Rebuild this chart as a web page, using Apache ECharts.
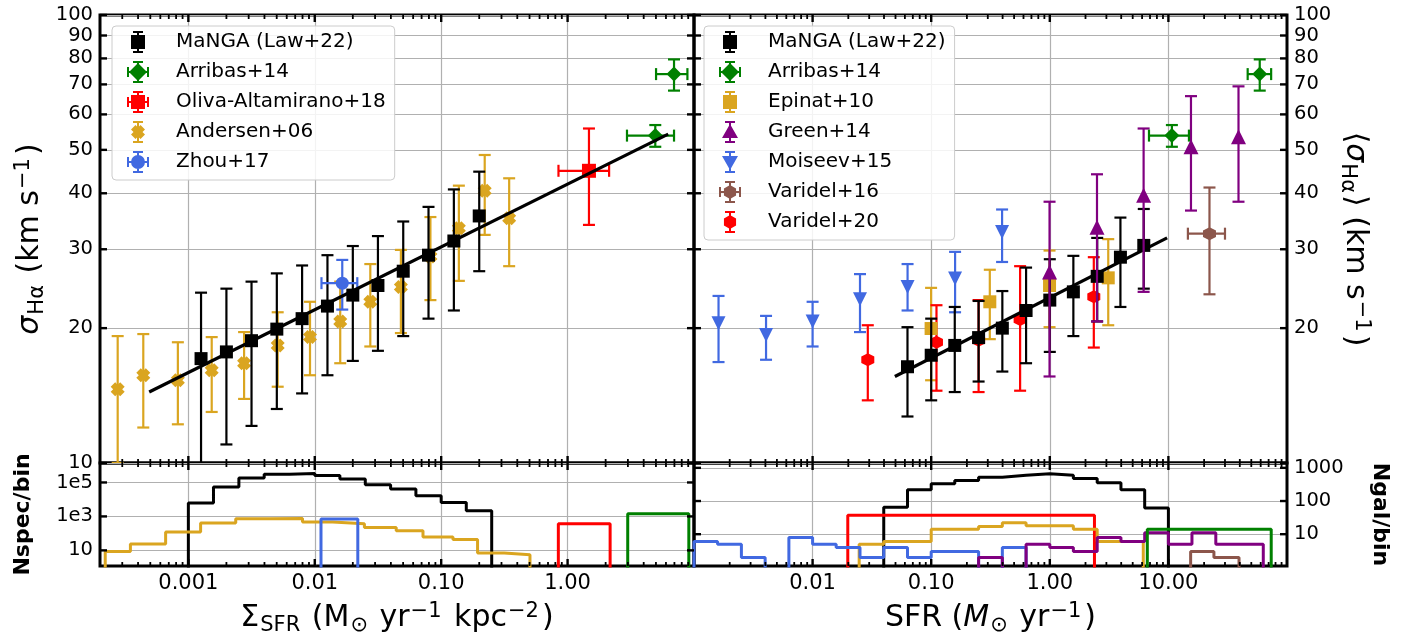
<!DOCTYPE html>
<html><head><meta charset="utf-8">
<script src="https://cdn.jsdelivr.net/npm/echarts@6/dist/echarts.min.js"></script>
<style>html,body{margin:0;padding:0;background:#fff}#c{width:1401px;height:642px}</style>
</head><body><div id="c"></div>
<script>
// ================= DATA =================
// tick values / labels
const xTicksLeft = [0.001, 0.01, 0.1, 1];
const xTickLabelsLeft = ['0.001', '0.01', '0.10', '1.00'];
const xTicksRight = [0.01, 0.1, 1, 10];
const xTickLabelsRight = ['0.01', '0.10', '1.00', '10.00'];
const sigmaTicks = [10, 20, 30, 40, 50, 60, 70, 80, 90, 100];
const sigmaTickLabels = ['10', '20', '30', '40', '50', '60', '70', '80', '90', '100'];
const sigmaTicksRightLabelled = [20, 30, 40, 50, 60, 70, 80, 90, 100];
const sigmaTickLabelsRight = ['20', '30', '40', '50', '60', '70', '80', '90', '100'];
const nspecTicks = [10, 1000, 100000];
const nspecTickLabels = ['10', '1e3', '1e5'];
const ngalTicks = [10, 100, 1000];
const ngalTickLabels = ['10', '100', '1000'];

// ---- left panel: sigma vs Sigma_SFR ----
const mangaL_x = [0.00126, 0.002, 0.00316, 0.00501, 0.00794, 0.0126, 0.02, 0.0316, 0.0501, 0.0794, 0.126, 0.2];
const mangaL_y = [17.1, 17.7, 18.75, 19.9, 21.0, 22.4, 23.7, 24.9, 26.8, 29.1, 31.3, 35.6];
const mangaL_lo = [9.5, 11.0, 12.1, 13.2, 14.3, 15.7, 16.9, 17.8, 19.2, 21.0, 21.9, 26.8];
const mangaL_hi = [24.0, 24.5, 25.4, 26.5, 27.6, 29.1, 30.5, 32.1, 34.6, 37.3, 40.8, 44.7];
const fitL_x = [0.00049, 6.25];
const fitL_y = [14.4, 54.2];

const arribasL_x = [4.94, 6.95];
const arribasL_y = [53.8, 73.8];
const arribasL_xlo = [2.95, 5.01];
const arribasL_xhi = [6.95, 8.87];
const arribasL_lo = [50.8, 67.8];
const arribasL_hi = [56.8, 79.6];

const oliva_x = [1.476];
const oliva_y = [44.9];
const oliva_xlo = [0.847];
const oliva_xhi = [2.13];
const oliva_lo = [34.0];
const oliva_hi = [55.8];

const andersen_x = [0.000276, 0.00044, 0.000826, 0.00153, 0.00276, 0.00509, 0.00917, 0.0159, 0.0275, 0.048, 0.0822, 0.138, 0.221, 0.345];
const andersen_y = [14.6, 15.7, 15.3, 16.1, 16.7, 18.3, 19.1, 20.7, 22.9, 24.7, 28.9, 33.4, 40.5, 35.2];
const andersen_lo = [10.0, 12.0, 12.2, 13.0, 13.9, 14.8, 15.7, 16.7, 18.2, 19.5, 23.1, 25.5, 32.3, 27.5];
const andersen_hi = [19.2, 19.4, 18.6, 19.1, 19.6, 21.7, 22.9, 25.4, 27.8, 29.9, 35.4, 41.6, 48.7, 43.2];

const zhou_x = [0.0165];
const zhou_y = [25.2];
const zhou_xlo = [0.0113];
const zhou_xhi = [0.0217];
const zhou_lo = [22.0];
const zhou_hi = [28.4];

// ---- right panel: sigma vs SFR ----
const mangaR_x = [0.0631, 0.1, 0.158, 0.251, 0.398, 0.631, 1.0, 1.58, 2.51, 3.94, 6.2];
const mangaR_y = [16.4, 17.4, 18.3, 19.05, 20.0, 21.9, 23.1, 24.1, 26.1, 28.8, 30.6];
const mangaR_lo = [12.7, 13.8, 14.4, 15.2, 16.0, 16.7, 17.7, 19.2, 20.7, 22.3, 24.5];
const mangaR_hi = [20.1, 21.0, 22.3, 23.0, 24.2, 27.3, 28.5, 29.0, 31.8, 35.3, 36.9];
const fitR_x = [0.0494, 9.75];
const fitR_y = [15.6, 31.8];

const arribasR_x = [10.7, 58.9];
const arribasR_y = [53.8, 73.8];
const arribasR_xlo = [6.86, 46.6];
const arribasR_xhi = [14.9, 73.5];
const arribasR_lo = [50.8, 67.8];
const arribasR_hi = [56.8, 79.6];

const epinat_x = [0.0998, 0.312, 0.995, 3.11];
const epinat_y = [19.96, 22.9, 24.9, 25.9];
const epinat_lo = [15.3, 18.9, 20.1, 20.3];
const epinat_hi = [24.6, 27.0, 29.8, 31.6];

const green_x = [0.995, 2.50, 6.18, 15.5, 39.0];
const green_y = [26.7, 33.6, 39.6, 50.8, 53.5];
const green_lo = [15.6, 20.7, 24.1, 36.6, 38.3];
const green_hi = [38.3, 44.1, 55.8, 65.9, 69.3];

const moiseev_x = [0.00161, 0.00405, 0.01, 0.0251, 0.0632, 0.159, 0.396];
const moiseev_y = [20.5, 19.3, 20.7, 23.2, 24.7, 25.8, 32.8];
const moiseev_lo = [16.8, 17.0, 18.2, 19.6, 21.9, 21.7, 28.1];
const moiseev_hi = [23.6, 21.3, 22.9, 26.4, 27.8, 29.6, 36.8];

const varidel16_x = [22.2];
const varidel16_y = [32.5];
const varidel16_xlo = [14.6];
const varidel16_xhi = [30.0];
const varidel16_lo = [23.8];
const varidel16_hi = [41.2];

const varidel20_x = [0.0292, 0.1108, 0.251, 0.562, 2.35];
const varidel20_y = [17.0, 18.6, 18.8, 20.9, 23.5];
const varidel20_lo = [13.8, 14.5, 14.4, 14.5, 18.1];
const varidel20_hi = [20.3, 22.5, 23.1, 27.5, 28.8];

// ---- histograms (bin edges, counts per bin) ----
const hL_manga_edges = [0.001, 0.00158, 0.00251, 0.00398, 0.00631, 0.01, 0.0158, 0.0251, 0.0398, 0.0631, 0.1, 0.158, 0.251];
const hL_manga_counts = [6170, 53700, 182000, 309000, 339000, 257000, 158000, 72400, 40700, 16600, 6610, 2190];
const hL_andersen_edges = [0.00022, 0.000348, 0.000661, 0.00125, 0.00237, 0.00437, 0.008, 0.01384, 0.0247, 0.0441, 0.0718, 0.124, 0.194, 0.315, 0.504];
const hL_andersen_counts = [8.7, 24, 120, 407, 724, 759, 468, 372, 224, 145, 62, 43, 7.1, 5.6];
const hL_zhou_edges = [0.0112, 0.0219];
const hL_zhou_counts = [708];
const hL_oliva_edges = [0.845, 2.17];
const hL_oliva_counts = [372];
const hL_arribas_edges = [2.99, 9.1];
const hL_arribas_counts = [1445];

const hR_manga_edges = [0.0398, 0.0631, 0.1, 0.158, 0.251, 0.398, 0.631, 1.0, 1.58, 2.51, 3.98, 6.31, 10.0];
const hR_manga_counts = [65, 219, 331, 417, 525, 603, 661, 603, 479, 355, 219, 62];
const hR_varidel20_edges = [0.0198, 2.38];
const hR_varidel20_counts = [37];
const hR_epinat_edges = [0.0247, 0.0398, 0.0631, 0.1, 0.158, 0.251, 0.398, 0.631, 1.0, 1.58, 2.51, 3.98, 6.14];
const hR_epinat_counts = [5, 6, 6, 14, 14, 17, 22, 18, 18, 14, 6, 6];
const hR_moiseev_edges = [0.001, 0.00158, 0.00251, 0.00398, 0.00631, 0.01, 0.0158, 0.0251, 0.0398, 0.0631, 0.1, 0.158, 0.251, 0.398, 0.631];
const hR_moiseev_counts = [6, 5, 2, 0, 8, 5, 4, 2, 4, 2, 3, 3, 0, 4];
const hR_green_edges = [0.251, 0.398, 0.631, 1.0, 1.58, 2.51, 3.98, 6.31, 10, 15.8, 25.1, 39.8, 63.1];
const hR_green_counts = [2, 0, 5, 4, 3, 8, 6, 11, 5, 11, 5, 5];
const hR_arribas_edges = [6.64, 73.6];
const hR_arribas_counts = [14];
const hR_varidel16_edges = [15.4, 24.2, 39.4];
const hR_varidel16_counts = [3, 2];

// legends
const legendLeftNames = ['MaNGA (Law+22)', 'Arribas+14', 'Oliva-Altamirano+18', 'Andersen+06', 'Zhou+17'];
const legendRightNames = ['MaNGA (Law+22)', 'Arribas+14', 'Epinat+10', 'Green+14', 'Moiseev+15', 'Varidel+16', 'Varidel+20'];

// ================= STYLE =================
const FONT = 'DejaVu Sans';
const BLACK = '#000000', GREEN = '#008000', RED = '#ff0000', GOLD = '#daa520', BLUE = '#4169e1', PURPLE = '#800080', BROWN = '#8c564b';
const GRIDC = '#b0b0b0';

const VBAR = 'M11 1H13V23H11Z M7 1H17V3H7Z M7 21H17V23H7Z';
const HBAR = 'M1 11H23V13H1Z M1 7H3V17H1Z M21 7H23V17H21Z';
const P_SQ = 'M5 5H19V19H5Z';
const P_DIA = 'M12 3L21 12L12 21L3 12Z';
const P_CIRC = 'M5 12A7 7 0 1 1 19 12A7 7 0 1 1 5 12Z';
const P_TRIU = 'M12 4L20 18L4 18Z';
const P_TRID = 'M4 6L20 6L12 20Z';
const P_HEX = 'M12 5L18.06 8.5L18.06 15.5L12 19L5.94 15.5L5.94 8.5Z';
const P_X = 'M5 9.5L9.5 5L12 7.5L14.5 5L19 9.5L16.5 12L19 14.5L14.5 19L12 16.5L9.5 19L5 14.5L7.5 12Z';

function fmt(ticks, labels) {
  return function (v) {
    for (let i = 0; i < ticks.length; i++) {
      if (Math.abs(Math.log10(v) - Math.log10(ticks[i])) < 1e-6) return labels[i];
    }
    return '';
  };
}
function minorTicks(min, max) {
  const out = [];
  for (let e = -5; e <= 3; e++) for (let m = 2; m <= 9; m++) {
    const v = m * Math.pow(10, e);
    if (v > min * 1.0001 && v < max * 0.9999) out.push(v);
  }
  return out;
}

const richT = {
  i: { fontStyle: 'italic', fontFamily: FONT, fontSize: 30, lineHeight: 35 },
  s: { fontFamily: FONT, fontSize: 21, lineHeight: 21, verticalAlign: 'bottom', padding: [0, 2, 0, 1] },
  p: { fontFamily: FONT, fontSize: 21, lineHeight: 21, verticalAlign: 'top', padding: [0, 3, 0, 1] }
};
const nameStyle = { fontFamily: FONT, fontSize: 30, color: '#000', lineHeight: 35, rich: richT };
const boldName = { fontFamily: FONT, fontSize: 22, fontWeight: 'bold', color: '#000' };
const hiddenTick = { show: true, length: 0, lineStyle: { color: 'rgba(0,0,0,0)', width: 0 } };

// axes (one x and one y per grid; ticks are drawn by a tick series below)
const panels = [
  { xmin: 0.0002, xmax: 10, xt: xTicksLeft, xl: null, xll: null, ymin: 10, ymax: 100, yt: sigmaTicks, side: 'left', yl: sigmaTicks, yll: sigmaTickLabels },
  { xmin: 0.0002, xmax: 10, xt: xTicksLeft, xl: xTicksLeft, xll: xTickLabelsLeft, ymin: 1.2, ymax: 1.4e6, yt: nspecTicks, side: 'left', yl: nspecTicks, yll: nspecTickLabels },
  { xmin: 0.001, xmax: 100, xt: xTicksRight, xl: null, xll: null, ymin: 10, ymax: 100, yt: sigmaTicks, side: 'right', yl: sigmaTicksRightLabelled, yll: sigmaTickLabelsRight },
  { xmin: 0.001, xmax: 100, xt: xTicksRight, xl: xTicksRight, xll: xTickLabelsRight, ymin: 1.1, ymax: 1400, yt: ngalTicks, side: 'right', yl: ngalTicks, yll: ngalTickLabels }
];
const xNames = [null, { n: 'Σ{s|SFR} (M{s|⊙} yr{p|−1} kpc{p|−2})', g: 35, st: nameStyle }, null, { n: 'SFR ({i|M}{s|⊙} yr{p|−1})', g: 35, st: nameStyle }];
const yNames = [
  { n: '{i|σ}{s|Hα} (km s{p|−1})', g: 52, r: 90, st: nameStyle },
  { n: 'Nspec/bin', g: 66, r: 90, st: boldName },
  { n: '⟨{i|σ}{s|Hα}⟩ (km s{p|−1})', g: 50, r: -90, st: nameStyle },
  { n: 'Ngal/bin', g: 82, r: -90, st: boldName }
];

const xAxis = panels.map((p, gi) => {
  const a = {
    gridIndex: gi, type: 'log', logBase: 10, min: p.xmin, max: p.xmax, position: 'bottom',
    axisLine: { show: false }, axisTick: Object.assign({ customValues: p.xt }, hiddenTick),
    axisLabel: p.xl ? { show: true, customValues: p.xl, formatter: fmt(p.xl, p.xll), color: '#000', fontFamily: FONT, fontSize: 21, margin: 7, showMinLabel: true, showMaxLabel: true } : { show: false },
    splitLine: { show: true, lineStyle: { color: GRIDC, width: 1.2 } }, axisPointer: { show: false }, silent: true
  };
  if (xNames[gi]) Object.assign(a, { name: xNames[gi].n, nameLocation: 'middle', nameGap: xNames[gi].g, nameTextStyle: xNames[gi].st });
  return a;
});
const yAxis = panels.map((p, gi) => ({
  gridIndex: gi, type: 'log', logBase: 10, min: p.ymin, max: p.ymax, position: p.side,
  axisLine: { show: false }, axisTick: Object.assign({ customValues: p.yt }, hiddenTick),
  axisLabel: { show: true, customValues: p.yl, formatter: fmt(p.yl, p.yll), color: '#000', fontFamily: FONT, fontSize: 19.5, margin: 7, showMinLabel: true, showMaxLabel: true, hideOverlap: false },
  splitLine: { show: true, lineStyle: { color: GRIDC, width: 1.2 } }, axisPointer: { show: false }, silent: true,
  name: yNames[gi].n, nameLocation: 'middle', nameGap: yNames[gi].g, nameRotate: yNames[gi].r, nameTextStyle: yNames[gi].st
}));

// ---- series builders ----
function hist(gi, edges, counts, color) {
  const floor = 0.3;
  const pts = [[edges[0], floor]];
  for (let i = 0; i < counts.length; i++) {
    const c = counts[i] > 0 ? counts[i] : floor;
    pts.push([edges[i], c]);
    pts.push([edges[i + 1], c]);
  }
  pts.push([edges[edges.length - 1], floor]);
  return { type: 'line', xAxisIndex: gi, yAxisIndex: gi, data: pts, symbol: 'none', showSymbol: false, lineStyle: { color: color, width: 3 }, itemStyle: { color: color }, clip: true, silent: true, z: 3, animation: false };
}
function errRender(color) {
  return function (params, api) {
    const x = api.value(0), y = api.value(1);
    const xlo = api.value(2), xhi = api.value(3), ylo = api.value(4), yhi = api.value(5);
    const st = { stroke: color, lineWidth: 2.2 };
    const cap = 6;
    const ch = [];
    if (isFinite(ylo) && isFinite(yhi) && ylo > 0) {
      const a = api.coord([x, ylo]), b = api.coord([x, yhi]);
      ch.push({ type: 'line', shape: { x1: a[0], y1: a[1], x2: b[0], y2: b[1] }, style: st });
      ch.push({ type: 'line', shape: { x1: a[0] - cap, y1: a[1], x2: a[0] + cap, y2: a[1] }, style: st });
      ch.push({ type: 'line', shape: { x1: b[0] - cap, y1: b[1], x2: b[0] + cap, y2: b[1] }, style: st });
    }
    if (isFinite(xlo) && isFinite(xhi) && xlo > 0) {
      const a = api.coord([xlo, y]), b = api.coord([xhi, y]);
      ch.push({ type: 'line', shape: { x1: a[0], y1: a[1], x2: b[0], y2: b[1] }, style: st });
      ch.push({ type: 'line', shape: { x1: a[0], y1: a[1] - cap, x2: a[0], y2: a[1] + cap }, style: st });
      ch.push({ type: 'line', shape: { x1: b[0], y1: b[1] - cap, x2: b[0], y2: b[1] + cap }, style: st });
    }
    return { type: 'group', children: ch };
  };
}
function errs(gi, xs, ys, xlo, xhi, ylo, yhi, color, z) {
  const data = xs.map((x, i) => [x, ys[i], xlo ? xlo[i] : null, xhi ? xhi[i] : null, ylo ? ylo[i] : null, yhi ? yhi[i] : null]);
  return { type: 'custom', xAxisIndex: gi, yAxisIndex: gi, data: data, encode: { x: 0, y: 1 }, renderItem: errRender(color), clip: true, silent: true, z: z, animation: false };
}
function scat(gi, name, xs, ys, symbol, size, color, z, rot) {
  return { type: 'scatter', name: name, xAxisIndex: gi, yAxisIndex: gi, data: xs.map((x, i) => [x, ys[i]]), symbol: symbol, symbolSize: size, symbolRotate: rot || 0, itemStyle: { color: color, opacity: 1 }, silent: true, z: z, animation: false };
}
function fit(gi, xs, ys) {
  return { type: 'line', xAxisIndex: gi, yAxisIndex: gi, data: xs.map((x, i) => [x, ys[i]]), symbol: 'none', showSymbol: false, lineStyle: { color: '#000', width: 3.2 }, silent: true, z: 8, animation: false };
}
// tick marks on all four spines, positioned by the axes' own scales
function tickSeries(gi) {
  const p = panels[gi];
  const data = [];
  p.xt.forEach(v => data.push([v, p.ymin, 0]));
  minorTicks(p.xmin, p.xmax).forEach(v => data.push([v, p.ymin, 1]));
  p.yt.forEach(v => data.push([p.xmin, v, 2]));
  return {
    type: 'custom', xAxisIndex: gi, yAxisIndex: gi, data: data, encode: { x: 0, y: 1 }, silent: true, z: 12, animation: false, clip: false,
    renderItem: function (params, api) {
      const cs = params.coordSys;
      const kind = api.value(2);
      const pt = api.coord([api.value(0), api.value(1)]);
      const major = kind !== 1;
      const len = major ? 7 : 4;
      const st = { stroke: '#000', lineWidth: major ? 2.4 : 1.8 };
      if (kind < 2) {
        const x = pt[0], y0 = cs.y, y1 = cs.y + cs.height;
        return { type: 'group', children: [
          { type: 'line', shape: { x1: x, y1: y0, x2: x, y2: y0 + len }, style: st },
          { type: 'line', shape: { x1: x, y1: y1, x2: x, y2: y1 - len }, style: st }
        ] };
      }
      const y = pt[1], x0 = cs.x, x1 = cs.x + cs.width;
      return { type: 'group', children: [
        { type: 'line', shape: { x1: x0, y1: y, x2: x0 + len, y2: y }, style: st },
        { type: 'line', shape: { x1: x1, y1: y, x2: x1 - len, y2: y }, style: st }
      ] };
    }
  };
}

// ================= OPTION =================
const gridBase = { show: true, borderColor: '#000', borderWidth: 3, backgroundColor: 'transparent', containLabel: false, outerBoundsMode: 'none' };
const grids = [
  Object.assign({}, gridBase, { left: 100, top: 15, width: 594, height: 448 }),
  Object.assign({}, gridBase, { left: 100, top: 463, width: 594, height: 103 }),
  Object.assign({}, gridBase, { left: 694, top: 15, width: 593, height: 448 }),
  Object.assign({}, gridBase, { left: 694, top: 463, width: 593, height: 103 })
];

const series = [
  // left histograms
  hist(1, hL_manga_edges, hL_manga_counts, BLACK),
  hist(1, hL_andersen_edges, hL_andersen_counts, GOLD),
  hist(1, hL_zhou_edges, hL_zhou_counts, BLUE),
  hist(1, hL_oliva_edges, hL_oliva_counts, RED),
  hist(1, hL_arribas_edges, hL_arribas_counts, GREEN),
  // right histograms
  hist(3, hR_manga_edges, hR_manga_counts, BLACK),
  hist(3, hR_varidel20_edges, hR_varidel20_counts, RED),
  hist(3, hR_epinat_edges, hR_epinat_counts, GOLD),
  hist(3, hR_moiseev_edges, hR_moiseev_counts, BLUE),
  hist(3, hR_green_edges, hR_green_counts, PURPLE),
  hist(3, hR_arribas_edges, hR_arribas_counts, GREEN),
  hist(3, hR_varidel16_edges, hR_varidel16_counts, BROWN),
  // left main panel
  errs(0, andersen_x, andersen_y, null, null, andersen_lo, andersen_hi, GOLD, 4),
  scat(0, 'Andersen+06', andersen_x, andersen_y, 'path://' + P_X, 14, GOLD, 4),
  errs(0, mangaL_x, mangaL_y, null, null, mangaL_lo, mangaL_hi, BLACK, 5),
  scat(0, 'MaNGA (Law+22)', mangaL_x, mangaL_y, 'rect', 13, BLACK, 5),
  errs(0, zhou_x, zhou_y, zhou_xlo, zhou_xhi, zhou_lo, zhou_hi, BLUE, 6),
  scat(0, 'Zhou+17', zhou_x, zhou_y, 'circle', 13, BLUE, 6),
  errs(0, oliva_x, oliva_y, oliva_xlo, oliva_xhi, oliva_lo, oliva_hi, RED, 6),
  scat(0, 'Oliva-Altamirano+18', oliva_x, oliva_y, 'rect', 14, RED, 6),
  errs(0, arribasL_x, arribasL_y, arribasL_xlo, arribasL_xhi, arribasL_lo, arribasL_hi, GREEN, 6),
  scat(0, 'Arribas+14', arribasL_x, arribasL_y, 'diamond', 15, GREEN, 6),
  fit(0, fitL_x, fitL_y),
  // right main panel
  errs(2, epinat_x, epinat_y, null, null, epinat_lo, epinat_hi, GOLD, 4),
  scat(2, 'Epinat+10', epinat_x, epinat_y, 'rect', 13, GOLD, 4),
  errs(2, moiseev_x, moiseev_y, null, null, moiseev_lo, moiseev_hi, BLUE, 4),
  scat(2, 'Moiseev+15', moiseev_x, moiseev_y, 'triangle', 14, BLUE, 4, 180),
  errs(2, varidel20_x, varidel20_y, null, null, varidel20_lo, varidel20_hi, RED, 4),
  scat(2, 'Varidel+20', varidel20_x, varidel20_y, 'path://' + P_HEX, 13, RED, 4),
  errs(2, mangaR_x, mangaR_y, null, null, mangaR_lo, mangaR_hi, BLACK, 5),
  scat(2, 'MaNGA (Law+22)', mangaR_x, mangaR_y, 'rect', 13, BLACK, 5),
  fit(2, fitR_x, fitR_y),
  errs(2, green_x, green_y, null, null, green_lo, green_hi, PURPLE, 9),
  scat(2, 'Green+14', green_x, green_y, 'triangle', 15, PURPLE, 9),
  errs(2, arribasR_x, arribasR_y, arribasR_xlo, arribasR_xhi, arribasR_lo, arribasR_hi, GREEN, 9),
  scat(2, 'Arribas+14', arribasR_x, arribasR_y, 'diamond', 15, GREEN, 9),
  errs(2, varidel16_x, varidel16_y, varidel16_xlo, varidel16_xhi, varidel16_lo, varidel16_hi, BROWN, 9),
  scat(2, 'Varidel+16', varidel16_x, varidel16_y, 'path://' + P_HEX, 13, BROWN, 9),
  // spine ticks
  tickSeries(0), tickSeries(1), tickSeries(2), tickSeries(3)
];

const iconMap = {
  'MaNGA (Law+22)': VBAR + ' ' + P_SQ,
  'Arribas+14': VBAR + ' ' + HBAR + ' ' + P_DIA,
  'Oliva-Altamirano+18': VBAR + ' ' + HBAR + ' ' + P_SQ,
  'Andersen+06': VBAR + ' ' + P_X,
  'Zhou+17': VBAR + ' ' + HBAR + ' ' + P_CIRC,
  'Epinat+10': VBAR + ' ' + P_SQ,
  'Green+14': VBAR + ' ' + P_TRIU,
  'Moiseev+15': VBAR + ' ' + P_TRID,
  'Varidel+16': VBAR + ' ' + HBAR + ' ' + P_HEX,
  'Varidel+20': VBAR + ' ' + P_HEX
};
const legendBase = {
  orient: 'vertical', itemWidth: 24, itemHeight: 22, itemGap: 8, padding: [5, 9, 7, 15],
  backgroundColor: 'rgba(255,255,255,0.85)', borderColor: '#cccccc', borderWidth: 1, borderRadius: 4,
  textStyle: { fontFamily: FONT, fontSize: 20, color: '#000', padding: [0, 0, 0, 21], lineHeight: 22 },
  selectedMode: false, z: 20
};
const legend = [
  Object.assign({}, legendBase, { left: 112, top: 26, data: legendLeftNames.map(n => ({ name: n, icon: 'path://' + iconMap[n] })) }),
  Object.assign({}, legendBase, { left: 704, top: 26, data: legendRightNames.map(n => ({ name: n, icon: 'path://' + iconMap[n] })) })
];

const chart = echarts.init(document.getElementById('c'), null, { renderer: 'canvas' });
chart.setOption({
  animation: false,
  backgroundColor: '#ffffff',
  textStyle: { fontFamily: FONT },
  grid: grids,
  xAxis: xAxis,
  yAxis: yAxis,
  legend: legend,
  series: series
});
</script></body></html>
